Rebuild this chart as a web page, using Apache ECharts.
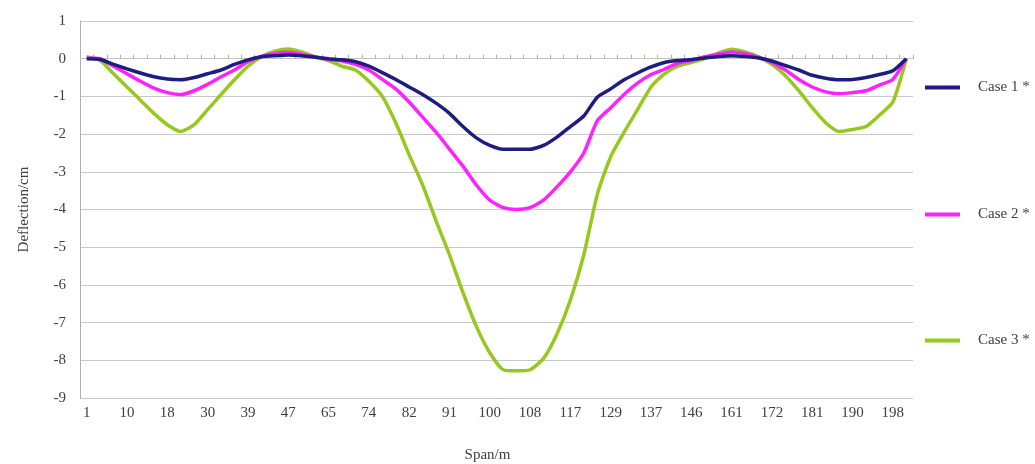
<!DOCTYPE html>
<html lang="en">
<head>
    <meta charset="UTF-8">
    <title>Deflection along span</title>
    <script src="https://cdn.jsdelivr.net/npm/echarts@6.0.0/dist/echarts.min.js"></script>
    <style>
        * { margin: 0; padding: 0; box-sizing: border-box; }
        body { background: #fff; }
        #chart { width: 1035px; height: 464px; }
    </style>
</head>
<body>
    <div id="chart"></div>

    <script>
        // span positions (m); only every third one is labelled on the axis
        const spans = [
            1, 4, 7, 10, 13, 15, 18, 22, 26, 30, 33, 36, 39, 42, 44, 47,
            53, 59, 65, 68, 71, 74, 77, 79, 82, 85, 88, 91, 94, 97, 100, 103,
            105, 108, 111, 114, 117, 121, 125, 129, 132, 134, 137, 140, 143, 146, 151,
            156, 161, 165, 168, 172, 175, 178, 181, 184, 187, 190, 193, 195, 198, 201
        ];

        const seriesNames = ['Case 1 *', 'Case 2 *', 'Case 3 *'];

        // deflection in cm
        const case1 = [
            0.00, -0.02, -0.15, -0.27, -0.38, -0.48, -0.54, -0.56, -0.50, -0.40,
            -0.30, -0.15, -0.03, 0.05, 0.08, 0.10, 0.08, 0.04, 0.00, -0.03,
            -0.08, -0.20, -0.37, -0.55, -0.75, -0.95, -1.18, -1.45, -1.80, -2.10,
            -2.30, -2.40, -2.40, -2.40, -2.30, -2.08, -1.80, -1.52, -1.02, -0.80,
            -0.56, -0.38, -0.22, -0.10, -0.05, -0.02, 0.02, 0.06, 0.08, 0.06,
            0.02, -0.06, -0.18, -0.30, -0.44, -0.52, -0.56, -0.55, -0.50, -0.42,
            -0.32, 0.00
        ];
        const case2 = [
            0.02, 0.00, -0.20, -0.40, -0.60, -0.78, -0.90, -0.95, -0.85, -0.68,
            -0.48, -0.30, -0.08, 0.06, 0.14, 0.17, 0.12, 0.05, -0.02, -0.06,
            -0.15, -0.30, -0.55, -0.80, -1.15, -1.55, -1.95, -2.40, -2.85, -3.35,
            -3.75, -3.95, -4.00, -3.95, -3.75, -3.40, -3.00, -2.50, -1.65, -1.30,
            -0.95, -0.65, -0.42, -0.28, -0.12, -0.05, 0.05, 0.12, 0.18, 0.14,
            0.04, -0.10, -0.30, -0.55, -0.75, -0.88, -0.93, -0.90, -0.85, -0.70,
            -0.55, 0.00
        ];
        const case3 = [
            0.05, -0.05, -0.40, -0.75, -1.10, -1.45, -1.75, -1.93, -1.75, -1.35,
            -0.95, -0.56, -0.20, 0.05, 0.20, 0.26, 0.18, 0.05, -0.05, -0.20,
            -0.30, -0.60, -1.00, -1.70, -2.55, -3.35, -4.30, -5.20, -6.20, -7.10,
            -7.80, -8.25, -8.28, -8.25, -7.95, -7.30, -6.40, -5.20, -3.60, -2.60,
            -1.95, -1.35, -0.75, -0.40, -0.20, -0.10, 0.00, 0.15, 0.25, 0.18,
            0.05, -0.15, -0.45, -0.85, -1.30, -1.70, -1.93, -1.88, -1.80, -1.50,
            -1.15, 0.00
        ];

        const colors = ['#1d1d80', '#ff22ff', '#96c81e'];
        const legendTops = [75, 202, 328];

        const serif = "'Liberation Serif', 'DejaVu Serif', serif";
        const txt = '#404040';

        const chart = echarts.init(document.getElementById('chart'));

        const option = {
            animation: false,
            color: colors,
            textStyle: { fontFamily: serif },
            grid: { left: 80, right: 122, top: 21, bottom: 66, outerBoundsMode: 'none' },
            legend: seriesNames.map((name, i) => ({
                data: [name],
                orient: 'vertical',
                left: 920,
                top: legendTops[i],
                icon: 'rect',
                itemWidth: 35,
                itemHeight: 4,
                textStyle: {
                    fontFamily: serif,
                    fontSize: 15,
                    color: txt,
                    padding: [0, 0, 0, 13]
                },
                selectedMode: false
            })),
            xAxis: [{
                type: 'category',
                data: spans,
                boundaryGap: true,
                position: 'bottom',
                axisLine: { show: false, onZero: false },
                axisTick: { show: false },
                axisLabel: {
                    interval: 2,
                    margin: 8,
                    fontFamily: serif,
                    fontSize: 15,
                    color: txt
                },
                splitLine: { show: false },
                name: 'Span/m',
                nameLocation: 'middle',
                nameGap: 50,
                nameTextStyle: {
                    fontFamily: serif,
                    fontSize: 15,
                    color: txt,
                    padding: [0, 18, 0, 0]
                }
            }, {
                // zero line with category ticks
                type: 'category',
                data: spans,
                boundaryGap: true,
                position: 'bottom',
                axisLine: { show: true, onZero: true, lineStyle: { color: '#c4c4c4', width: 1 } },
                axisTick: { show: true, inside: true, interval: 0, length: 4, lineStyle: { color: '#b0b0b0' } },
                axisLabel: { show: false },
                splitLine: { show: false }
            }],
            yAxis: {
                type: 'value',
                min: -9,
                max: 1,
                interval: 1,
                axisLine: { show: true, lineStyle: { color: '#b0b0b0' } },
                axisTick: { show: false },
                axisLabel: {
                    margin: 14,
                    fontFamily: serif,
                    fontSize: 15,
                    color: txt
                },
                splitLine: { lineStyle: { color: '#c8c8c8', width: 1 } },
                name: 'Deflection/cm',
                nameLocation: 'middle',
                nameGap: 48,
                nameTextStyle: {
                    fontFamily: serif,
                    fontSize: 15,
                    color: txt
                }
            },
            series: [case1, case2, case3].map((values, i) => ({
                name: seriesNames[i],
                type: 'line',
                xAxisIndex: 0,
                data: values,
                showSymbol: false,
                symbol: 'none',
                smooth: 0.2,
                lineStyle: { width: 3.5, color: colors[i] },
                z: 3 - i
            }))
        };

        chart.setOption(option);
    </script>
</body>
</html>
